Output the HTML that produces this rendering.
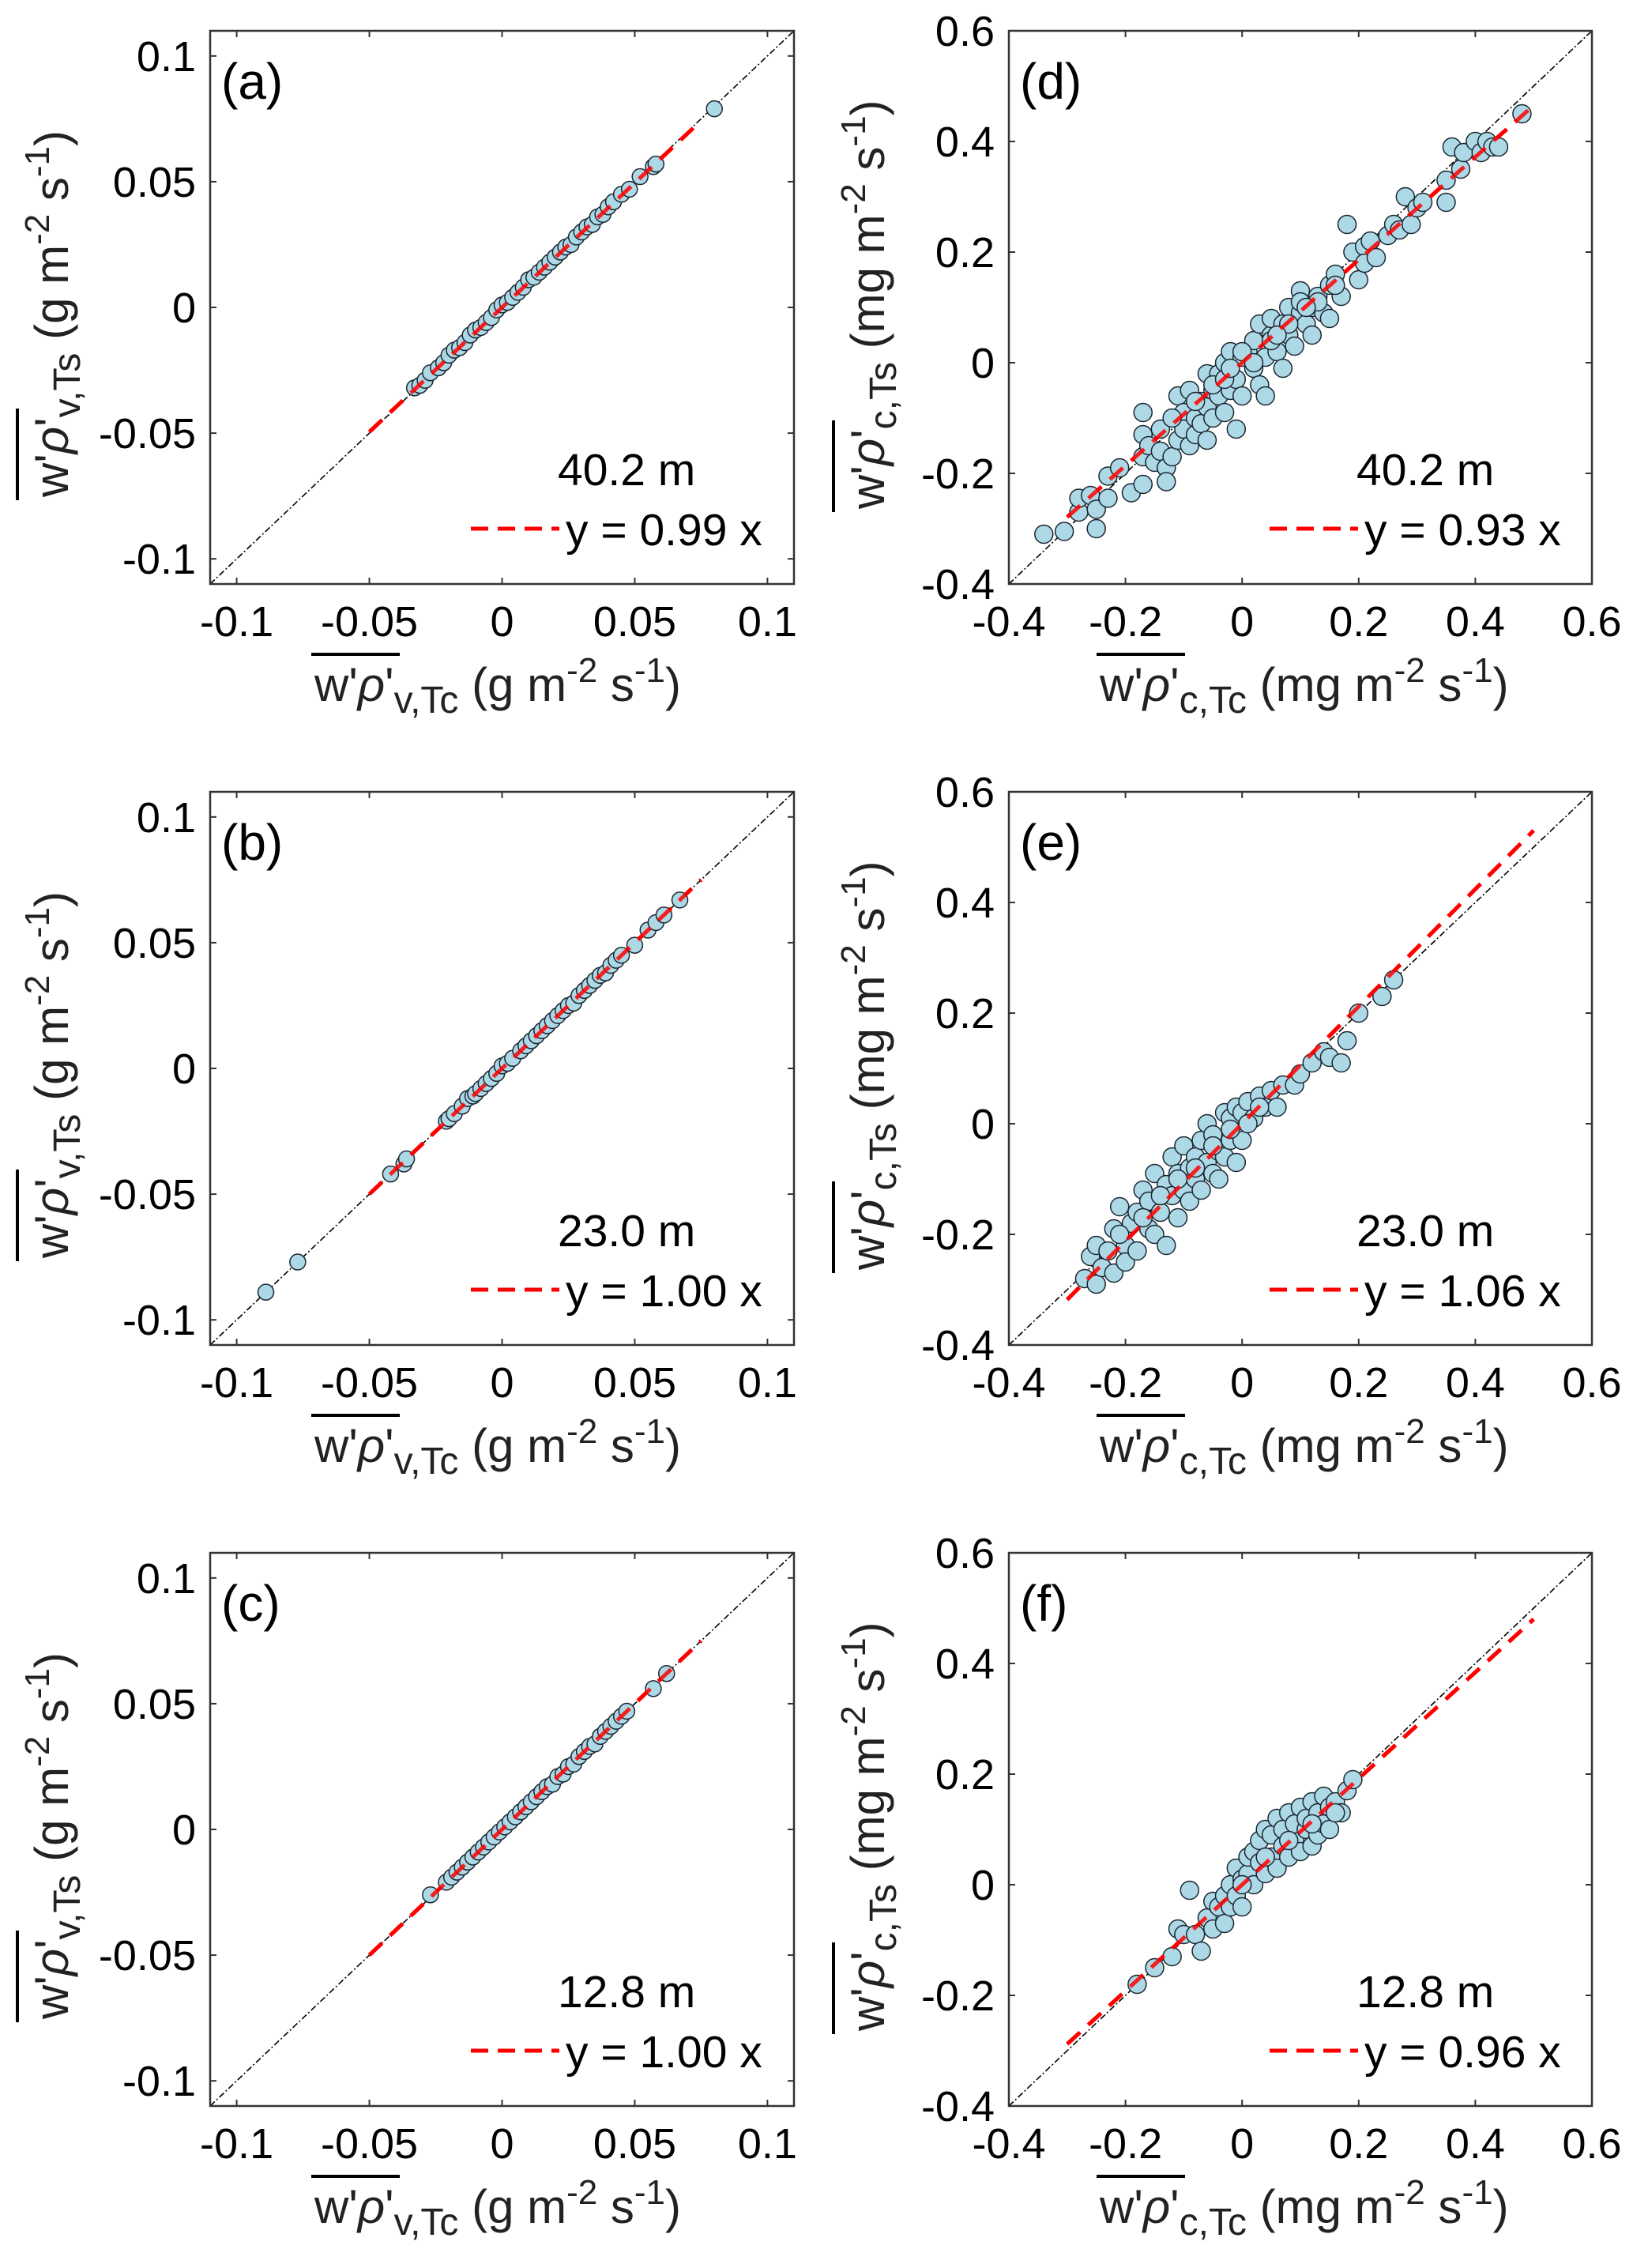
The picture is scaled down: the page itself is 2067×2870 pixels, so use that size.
<!DOCTYPE html>
<html><head><meta charset="utf-8">
<style>
html,body{margin:0;padding:0;background:#fff;}
svg{display:block;font-family:"Liberation Sans",Arial,sans-serif;}
</style></head>
<body>
<svg id="fig" width="2067" height="2870" viewBox="0 0 2067 2870" xmlns="http://www.w3.org/2000/svg"></svg>
<script>
// ---- data ----
const aX=[-0.033,-0.031,-0.029,-0.027,-0.024,-0.022,-0.02,-0.018,-0.016,-0.014,-0.012,-0.01,-0.008,-0.006,-0.004,-0.002,0,0.002,0.004,0.006,0.008,0.01,0.012,0.014,0.016,0.018,0.02,0.022,0.024,0.026,0.028,0.03,0.032,0.034,0.036,0.038,0.04,0.042,0.045,0.048,0.052,0.057,0.058,0.08];
const aY=[-0.032,-0.031,-0.029,-0.026,-0.024,-0.022,-0.019,-0.017,-0.016,-0.014,-0.011,-0.009,-0.008,-0.006,-0.004,-0.001,0.001,0.002,0.004,0.006,0.008,0.011,0.012,0.014,0.016,0.018,0.02,0.022,0.024,0.025,0.028,0.03,0.032,0.033,0.036,0.037,0.04,0.042,0.045,0.047,0.052,0.056,0.057,0.079];
const bX=[-0.089,-0.077,-0.042,-0.037,-0.036,-0.021,-0.02,-0.018,-0.015,-0.013,-0.011,-0.01,-0.008,-0.006,-0.004,-0.002,0,0.002,0.004,0.007,0.009,0.011,0.013,0.015,0.017,0.019,0.021,0.023,0.025,0.027,0.029,0.031,0.033,0.035,0.037,0.039,0.041,0.043,0.045,0.05,0.055,0.058,0.061,0.067];
const bY=[-0.089,-0.077,-0.042,-0.038,-0.036,-0.021,-0.02,-0.018,-0.015,-0.012,-0.011,-0.01,-0.008,-0.006,-0.004,-0.002,0.001,0.002,0.004,0.007,0.009,0.011,0.013,0.015,0.017,0.019,0.021,0.023,0.025,0.026,0.029,0.031,0.033,0.035,0.037,0.038,0.041,0.043,0.045,0.049,0.055,0.058,0.061,0.067];
const cX=[-0.027,-0.021,-0.019,-0.017,-0.015,-0.013,-0.011,-0.009,-0.007,-0.005,-0.003,-0.001,0.001,0.003,0.005,0.007,0.009,0.011,0.013,0.015,0.017,0.019,0.021,0.023,0.025,0.027,0.029,0.031,0.033,0.035,0.037,0.039,0.041,0.043,0.045,0.047,0.057,0.062];
const cY=[-0.026,-0.021,-0.019,-0.017,-0.015,-0.013,-0.011,-0.009,-0.007,-0.005,-0.003,-0.001,0.001,0.003,0.005,0.007,0.009,0.011,0.013,0.015,0.017,0.018,0.021,0.022,0.025,0.026,0.029,0.031,0.033,0.034,0.037,0.039,0.041,0.043,0.045,0.047,0.056,0.062];
const dX=[-0.34,-0.305,-0.28,-0.28,-0.26,-0.25,-0.25,-0.23,-0.23,-0.21,-0.19,-0.17,-0.17,-0.17,-0.17,-0.16,-0.15,-0.14,-0.14,-0.13,-0.13,-0.12,-0.11,-0.11,-0.1,-0.1,-0.09,-0.09,-0.08,-0.08,-0.07,-0.07,-0.06,-0.06,-0.06,-0.05,-0.05,-0.04,-0.04,-0.03,-0.03,-0.02,-0.02,-0.01,-0.01,0,0,0.01,0.02,0.02,0.03,0.03,0.04,0.04,0.05,0.05,0.06,0.07,0.07,0.08,0.08,0.09,0.1,0.1,0.11,0.12,0.12,0.13,0.14,0.15,0.15,0.16,0.17,0.18,0.19,0.2,0.21,0.21,0.22,0.23,0.25,0.26,0.27,0.28,0.29,0.3,0.31,0.35,0.35,0.36,0.375,0.38,0.4,0.41,0.42,0.43,0.44,0.48,-0.08,-0.05,-0.03,0.0,0.02,0.05,0.08,0.1,0.13,0.16,-0.12,-0.02,0.06,0.11];
const dY=[-0.31,-0.305,-0.27,-0.245,-0.24,-0.3,-0.265,-0.205,-0.245,-0.19,-0.235,-0.09,-0.13,-0.17,-0.22,-0.15,-0.18,-0.12,-0.16,-0.19,-0.215,-0.17,-0.06,-0.14,-0.09,-0.12,-0.05,-0.15,-0.1,-0.13,-0.07,-0.11,-0.02,-0.08,-0.14,-0.05,-0.1,-0.06,-0.02,0,-0.09,0.02,-0.05,-0.12,-0.03,0.01,-0.06,0.02,-0.01,0.04,-0.04,0.07,0.01,-0.06,0.05,0.08,0.02,0.07,-0.01,0.05,0.1,0.03,0.09,0.13,0.07,0.1,0.05,0.12,0.09,0.14,0.08,0.16,0.12,0.25,0.2,0.15,0.21,0.18,0.22,0.19,0.23,0.25,0.24,0.3,0.25,0.28,0.29,0.33,0.29,0.39,0.35,0.38,0.4,0.38,0.4,0.39,0.39,0.45,-0.07,-0.04,-0.03,0.02,0.0,0.04,0.07,0.11,0.11,0.14,-0.1,-0.01,0.05,0.1];
const eX=[-0.27,-0.26,-0.25,-0.25,-0.24,-0.23,-0.22,-0.22,-0.21,-0.2,-0.2,-0.19,-0.18,-0.18,-0.17,-0.16,-0.16,-0.15,-0.15,-0.14,-0.13,-0.13,-0.12,-0.12,-0.11,-0.11,-0.1,-0.1,-0.09,-0.09,-0.08,-0.08,-0.07,-0.07,-0.06,-0.06,-0.05,-0.05,-0.04,-0.04,-0.03,-0.03,-0.02,-0.02,-0.01,-0.01,0,0,0.01,0.02,0.03,0.04,0.05,0.06,0.07,0.09,0.1,0.12,0.14,0.15,0.17,0.18,0.2,0.24,0.26,-0.21,-0.17,-0.14,-0.11,-0.08,-0.05,-0.02,0.01,0.03];
const eY=[-0.28,-0.24,-0.29,-0.22,-0.26,-0.23,-0.19,-0.27,-0.15,-0.22,-0.25,-0.18,-0.16,-0.23,-0.12,-0.19,-0.14,-0.09,-0.2,-0.16,-0.11,-0.22,-0.13,-0.06,-0.09,-0.17,-0.04,-0.12,-0.08,-0.14,-0.06,-0.1,-0.03,-0.12,-0.07,0,-0.09,-0.02,-0.05,-0.1,0.02,-0.06,-0.03,0.01,-0.07,0.03,0.02,-0.03,0.04,0.01,0.05,0.03,0.06,0.03,0.07,0.07,0.09,0.11,0.13,0.12,0.11,0.15,0.2,0.23,0.26,-0.2,-0.17,-0.13,-0.1,-0.08,-0.04,-0.01,0.0,0.03];
const fX=[-0.18,-0.15,-0.12,-0.11,-0.1,-0.09,-0.08,-0.07,-0.06,-0.05,-0.05,-0.04,-0.03,-0.03,-0.02,-0.02,-0.01,-0.01,0,0,0.01,0.01,0.02,0.02,0.03,0.03,0.04,0.04,0.05,0.05,0.06,0.06,0.07,0.07,0.08,0.08,0.09,0.09,0.1,0.1,0.11,0.11,0.12,0.12,0.13,0.13,0.14,0.14,0.15,0.15,0.16,0.17,0.18,0.19,0.0,0.04,0.08,0.12,0.16];
const fY=[-0.18,-0.15,-0.13,-0.08,-0.09,-0.01,-0.09,-0.12,-0.06,-0.03,-0.08,-0.04,-0.02,-0.07,0.0,-0.04,-0.02,0.03,0.01,-0.04,0.02,0.05,0.0,0.06,0.04,0.08,0.02,0.1,0.05,0.09,0.03,0.12,0.07,0.1,0.05,0.13,0.08,0.11,0.06,0.14,0.1,0.12,0.07,0.15,0.09,0.13,0.11,0.16,0.1,0.14,0.15,0.13,0.17,0.19,0.0,0.05,0.08,0.11,0.13];
const leftTicks=[-0.1,-0.05,0,0.05,0.1];
const leftTickLabels=["-0.1","-0.05","0","0.05","0.1"];
const rightTicks=[-0.4,-0.2,0,0.2,0.4,0.6];
const rightTickLabels=["-0.4","-0.2","0","0.2","0.4","0.6"];
const panelLetters=["(a)","(b)","(c)","(d)","(e)","(f)"];
const heights=["40.2 m","23.0 m","12.8 m","40.2 m","23.0 m","12.8 m"];
const slopes=[0.99,1.00,1.00,0.93,1.06,0.96];
const fitStart=[-0.05,-0.05,-0.05,-0.3,-0.3,-0.3];
const fitEnd=[0.075,0.075,0.075,0.5,0.5,0.5];

const NS="http://www.w3.org/2000/svg";
const svg=document.getElementById('fig');
function mk(tag,attrs,parent){const e=document.createElementNS(NS,tag);for(const k in attrs)e.setAttribute(k,attrs[k]);(parent||svg).appendChild(e);return e;}

const tops=[39,1002,1965];
const H=700;
const panels=[
 {L:266,W:739,row:0,min:-0.11,max:0.11,X:aX,Y:aY,ticks:leftTicks,labs:leftTickLabels,sp:"v",unit:"g",r:10},
 {L:266,W:739,row:1,min:-0.11,max:0.11,X:bX,Y:bY,ticks:leftTicks,labs:leftTickLabels,sp:"v",unit:"g",r:10},
 {L:266,W:739,row:2,min:-0.11,max:0.11,X:cX,Y:cY,ticks:leftTicks,labs:leftTickLabels,sp:"v",unit:"g",r:10},
 {L:1277,W:738,row:0,min:-0.4,max:0.6,X:dX,Y:dY,ticks:rightTicks,labs:rightTickLabels,sp:"c",unit:"mg",r:11.5},
 {L:1277,W:738,row:1,min:-0.4,max:0.6,X:eX,Y:eY,ticks:rightTicks,labs:rightTickLabels,sp:"c",unit:"mg",r:11.5},
 {L:1277,W:738,row:2,min:-0.4,max:0.6,X:fX,Y:fY,ticks:rightTicks,labs:rightTickLabels,sp:"c",unit:"mg",r:11.5}
];

panels.forEach((p,i)=>{
  const T=tops[p.row], L=p.L, W=p.W;
  const sx=v=>L+(v-p.min)/(p.max-p.min)*W;
  const sy=v=>T+H-(v-p.min)/(p.max-p.min)*H;
  const g=mk('g',{});
  
  
  const clipId='clip'+i;
  const cp=mk('clipPath',{id:clipId},g);
  mk('rect',{x:L,y:T,width:W,height:H},cp);
  p.ticks.forEach((t,k)=>{
    const x=sx(t), y=sy(t);
    if(x>=L-0.5&&x<=L+W+0.5){
      mk('line',{x1:x,y1:T+H,x2:x,y2:T+H-8,stroke:'#333','stroke-width':2},g);
      mk('line',{x1:x,y1:T,x2:x,y2:T+8,stroke:'#333','stroke-width':2},g);
      const tx=mk('text',{x:x,y:T+H+66,'text-anchor':'middle','font-size':54,fill:'#000'},g);
      tx.textContent=p.labs[k];
      
      
    }
    if(y>=T-0.5&&y<=T+H+0.5){
      mk('line',{x1:L,y1:y,x2:L+8,y2:y,stroke:'#333','stroke-width':2},g);
      mk('line',{x1:L+W,y1:y,x2:L+W-8,y2:y,stroke:'#333','stroke-width':2},g);
      const ty=mk('text',{x:L-18,y:y+19,'text-anchor':'end','font-size':54,fill:'#000'},g);
      ty.textContent=p.labs[k];
      
      
    }
  });
  const inner=mk('g',{'clip-path':'url(#'+clipId+')'},g);
  const one=mk('line',{x1:sx(p.min),y1:sy(p.min),x2:sx(p.max),y2:sy(p.max),stroke:'#000','stroke-width':1.6,'stroke-dasharray':'8 3 2 3'},inner);
  
  
  const fit=mk('line',{x1:sx(fitStart[i]),y1:sy(fitStart[i]*slopes[i]),x2:sx(fitEnd[i]),y2:sy(fitEnd[i]*slopes[i]),stroke:'#f00','stroke-width':5,'stroke-dasharray':'22 14'},inner);
  
  
  p.X.forEach((xv,k)=>{
    const c=mk('circle',{cx:sx(xv),cy:sy(p.Y[k]),r:p.r,fill:'#add8e6',stroke:'#1a2630','stroke-width':1.5},inner);
    
    
  });
  mk('line',{x1:sx(fitStart[i]),y1:sy(fitStart[i]*slopes[i]),x2:sx(fitEnd[i]),y2:sy(fitEnd[i]*slopes[i]),stroke:'#f00','stroke-width':5,'stroke-dasharray':'22 14','opacity':0.85},inner);
  const fr=mk('rect',{x:L,y:T,width:W,height:H,fill:'none',stroke:'#333','stroke-width':2.5},g);
  
  
  const pl=mk('text',{x:L+14,y:T+86,'font-size':64,fill:'#000'},g);
  pl.textContent=panelLetters[i];
  
  
  const ht=mk('text',{x:L+440,y:T+575,'font-size':57,fill:'#000'},g);
  ht.textContent=heights[i];
  
  
  const lg=mk('g',{},g);
  
  
  mk('line',{x1:L+330,y1:T+630,x2:L+442,y2:T+630,stroke:'#f00','stroke-width':5,'stroke-dasharray':'22 12'},lg);
  const lt=mk('text',{x:L+450,y:T+651,'font-size':57,fill:'#000'},lg);
  lt.textContent='y = '+slopes[i].toFixed(2)+' x';
  const xoff = p.sp==='v'?132:115;
  const xl=mk('text',{x:L+xoff,y:T+848,'font-size':60,fill:'#222'},g);
  
  
  xl.innerHTML='w\'<tspan font-style="italic">ρ</tspan>\'<tspan font-size="48" dy="15">'+p.sp+',Tc</tspan><tspan dy="-15"> ('+p.unit+' m</tspan><tspan font-size="44" dy="-24">-2</tspan><tspan dy="24"> s</tspan><tspan font-size="44" dy="-24">-1</tspan><tspan dy="24">)</tspan>';
  mk('line',{x1:L+xoff-4,y1:T+789,x2:L+xoff+108,y2:T+789,stroke:'#000','stroke-width':4},g);
  const yb = p.sp==='v'?L-180:L-158;
  const ys = p.sp==='v'?T+590:T+605;
  const yl=mk('text',{x:0,y:0,'font-size':60,fill:'#222',transform:'translate('+yb+','+ys+') rotate(-90)'},g);
  
  
  yl.innerHTML='w\'<tspan font-style="italic">ρ</tspan>\'<tspan font-size="48" dy="15">'+p.sp+',Ts</tspan><tspan dy="-15"> ('+p.unit+' m</tspan><tspan font-size="44" dy="-24">-2</tspan><tspan dy="24"> s</tspan><tspan font-size="44" dy="-24">-1</tspan><tspan dy="24">)</tspan>';
  mk('line',{x1:yb-64,y1:ys+4,x2:yb-64,y2:ys-112,stroke:'#000','stroke-width':4},g);
});
</script>
</body></html>
